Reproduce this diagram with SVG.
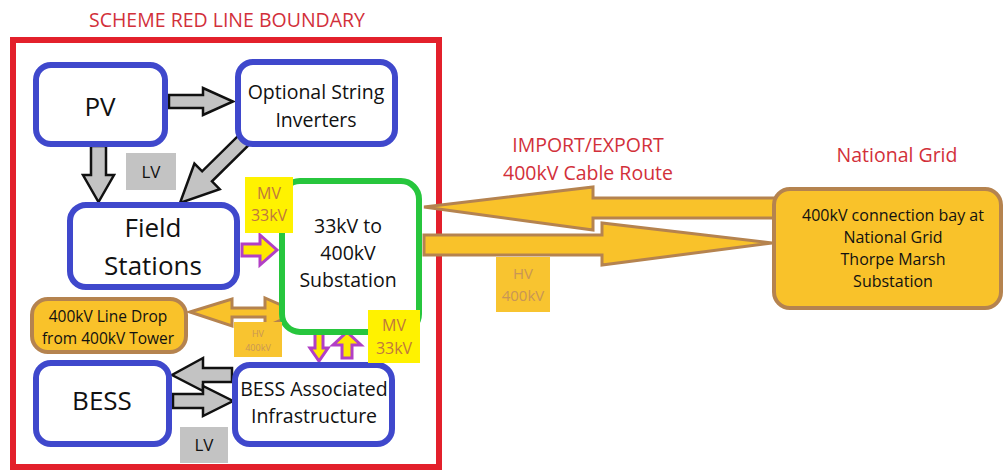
<svg xmlns="http://www.w3.org/2000/svg" width="1004" height="470" viewBox="0 0 1004 470">
  <style>
    text { font-family: "Open Sans", "Noto Sans", "Liberation Sans", sans-serif; text-anchor: middle; dominant-baseline: central; fill: #111; }
    .boundary { fill: none; stroke: #e3202b; stroke-width: 6; }
    .title { fill: #d2303a; font-size: 19.5px; }
    .blue { fill: #fff; stroke: #3f48cc; stroke-width: 6; }
    .green { fill: #fff; stroke: #27c63d; stroke-width: 6; }
    .gold { fill: #f9c22a; stroke: #b5834f; stroke-width: 4; }
    .grey-arrow { fill: #c3c3c3; stroke: #111; stroke-width: 2.5; stroke-linejoin: miter; }
    .power-arrow { fill: #f9c22a; stroke: #b5834f; stroke-width: 3; stroke-linejoin: miter; }
    .mv-arrow { fill: #ffe800; stroke: #b13fc6; stroke-width: 3; stroke-linejoin: miter; }
    .lv { fill: #c3c3c3; }
    .mv { fill: #fff200; }
    .mv-text { fill: #c0783e; font-size: 16px; }
    .hv { fill: #f8c430; }
    .hv-text { fill: #c89656; }
    .big { font-size: 26px; }
    .mid { font-size: 19.5px; }
    .small { font-size: 15.5px; }
  </style>

  <!-- site boundary -->
  <g id="boundary">
    <text class="title" x="227" y="19">SCHEME RED LINE BOUNDARY</text>
    <rect class="boundary" x="13" y="40" width="426" height="427"/>
  </g>

  <!-- labels outside the boundary -->
  <g id="route-label">
    <text class="title" x="588" y="144">IMPORT/EXPORT</text>
    <text class="title" x="588" y="172">400kV Cable Route</text>
  </g>
  <g id="grid-label">
    <text class="title" x="897" y="154">National Grid</text>
  </g>

  <!-- connectors -->
  <g id="connectors">
    <!-- PV to string inverters -->
    <polygon class="grey-arrow" points="169,95 203,95 203,88 233,101.5 203,115 203,108 169,108"/>
    <!-- PV to field stations -->
    <polygon class="grey-arrow" points="91,146 106,146 106,175 114,175 98.5,202 83,175 91,175"/>
    <!-- string inverters to field stations -->
    <polygon class="grey-arrow" transform="translate(180,203) rotate(135.4)" points="-92,-7 -38,-7 -38,-18 0,0 -38,18 -38,7 -92,7"/>
    <!-- field stations to substation -->
    <polygon class="mv-arrow" points="242,244 260,244 260,235 277,250 260,265 260,256 242,256"/>
    <!-- line drop to / from substation -->
    <polygon class="power-arrow" points="190,312 232,299 232,308 265,308 265,298 298,312.5 265,327 265,317 232,317 232,326"/>
    <!-- substation to / from BESS infrastructure -->
    <polygon class="mv-arrow" points="315,333 323,333 323,348 328,348 319,361 310,348 315,348"/>
    <polygon class="mv-arrow" points="342,358 352,358 352,345 361,345 347,332 333,345 342,345"/>
    <!-- BESS infrastructure to / from BESS -->
    <polygon class="grey-arrow" points="232,368 203,368 203,358 172,375 203,391 203,382 232,382"/>
    <polygon class="grey-arrow" points="173,394 203,394 203,386 233,401 203,416 203,408 173,408"/>
    <!-- 400kV cable route -->
    <polygon class="power-arrow" points="776,198 593,198 593,187 424,207 593,230 593,218 776,218"/>
    <polygon class="power-arrow" points="424,235 602,235 602,223 772,243 602,265 602,255 424,255"/>
  </g>

  <!-- nodes -->
  <g id="pv">
    <rect class="blue" x="36" y="65" width="129" height="79" rx="15"/>
    <text class="big" x="100" y="106">PV</text>
  </g>
  <g id="string-inverters">
    <rect class="blue" x="238" y="62" width="157" height="82" rx="15"/>
    <text class="mid" x="316" y="91">Optional String</text>
    <text class="mid" x="316" y="119">Inverters</text>
  </g>
  <g id="field-stations">
    <rect class="blue" x="70" y="205" width="167" height="82" rx="16"/>
    <text class="big" x="153" y="227">Field</text>
    <text class="big" x="153" y="265">Stations</text>
  </g>
  <g id="substation">
    <rect class="green" x="282" y="181" width="137" height="151" rx="18"/>
    <text class="mid" x="348" y="225">33kV to</text>
    <text class="mid" x="348" y="252">400kV</text>
    <text class="mid" x="348" y="279">Substation</text>
  </g>
  <g id="line-drop">
    <rect class="gold" x="32" y="299" width="154" height="53" rx="16"/>
    <text class="small" x="108" y="316">400kV Line Drop</text>
    <text class="small" x="108" y="338">from 400kV Tower</text>
  </g>
  <g id="bess">
    <rect class="blue" x="36" y="363" width="133" height="81" rx="15"/>
    <text class="big" x="102" y="400">BESS</text>
  </g>
  <g id="bess-infrastructure">
    <rect class="blue" x="235" y="365" width="157" height="79" rx="15"/>
    <text class="mid" x="314" y="388">BESS Associated</text>
    <text class="mid" x="314" y="415">Infrastructure</text>
  </g>
  <g id="national-grid">
    <rect class="gold" x="774" y="189" width="227" height="119" rx="16"/>
    <text class="small" x="893" y="215" style="font-size:16px">400kV connection bay at</text>
    <text class="small" x="893" y="237" style="font-size:16px">National Grid</text>
    <text class="small" x="893" y="259" style="font-size:16px">Thorpe Marsh</text>
    <text class="small" x="893" y="281" style="font-size:16px">Substation</text>
  </g>

  <!-- voltage tags -->
  <g id="tag-lv-pv">
    <rect class="lv" x="126" y="153" width="50" height="37"/>
    <text x="151" y="171" style="font-size:17px">LV</text>
  </g>
  <g id="tag-mv-field">
    <rect class="mv" x="245" y="177" width="48" height="56"/>
    <text class="mv-text" x="269" y="193">MV</text>
    <text class="mv-text" x="269" y="215">33kV</text>
  </g>
  <g id="tag-hv-drop">
    <rect class="hv" x="234" y="322" width="48" height="35"/>
    <text class="hv-text" x="258" y="333" style="font-size:9px">HV</text>
    <text class="hv-text" x="258" y="347" style="font-size:9px">400kV</text>
  </g>
  <g id="tag-mv-bess">
    <rect class="mv" x="368" y="310" width="52" height="53"/>
    <text class="mv-text" x="394" y="325">MV</text>
    <text class="mv-text" x="394" y="348">33kV</text>
  </g>
  <g id="tag-lv-bess">
    <rect class="lv" x="180" y="427" width="48" height="36"/>
    <text x="204" y="444" style="font-size:17px">LV</text>
  </g>
  <g id="tag-hv-route">
    <rect class="hv" x="496" y="257" width="54" height="55"/>
    <text class="hv-text" x="523" y="273" style="font-size:15px">HV</text>
    <text class="hv-text" x="523" y="295" style="font-size:15px">400kV</text>
  </g>
</svg>
